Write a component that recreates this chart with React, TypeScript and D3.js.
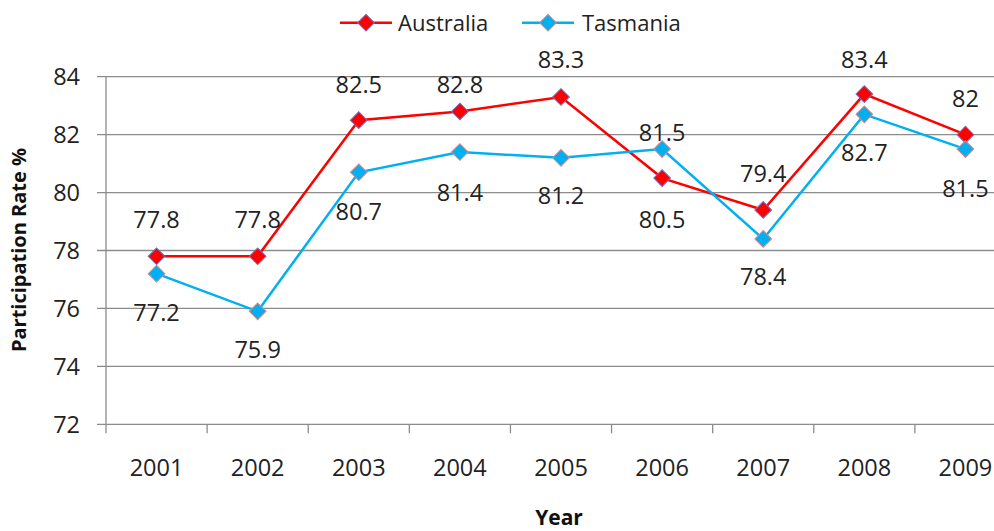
import React from 'react';
import * as d3 from 'd3';

const years = ['2001', '2002', '2003', '2004', '2005', '2006', '2007', '2008', '2009'];
const australia = [77.8, 77.8, 82.5, 82.8, 83.3, 80.5, 79.4, 83.4, 82];
const tasmania = [77.2, 75.9, 80.7, 81.4, 81.2, 81.5, 78.4, 82.7, 81.5];
const yTicks = [72, 74, 76, 78, 80, 82, 84];
const seriesNames = ['Australia', 'Tasmania'];

// label placement (pixel offset of label centre from the point), layout only
const ausLabelDy = [-37, -37, -36, -27, -37, 41, -36, -35, -36];
const tasLabelDy = [39, 38, 39, 40, 38, -17, 38, 38, 39];

const W = 994;
const H = 531;
const FONT = '"Open Sans", "Liberation Sans", sans-serif';
const RED = '#FF0000';
const BLUE = '#00B0F0';
const RED_EDGE = '#6f6fc0';
const BLUE_EDGE = '#d9868a';
const GRID = '#8c8c8c';

export default function App() {
  const x = d3.scaleBand<string>().domain(years).range([106, 1016]).padding(0);
  const y = d3.scaleLinear().domain([72, 84]).range([424.3, 76.7]);
  const cx = (i: number) => (x(years[i]) as number) + x.bandwidth() / 2;
  const line = d3
    .line<number>()
    .x((_, i) => cx(i))
    .y((d) => y(d));
  const diamond = d3.symbol().type(d3.symbolSquare).size(140)() as string;

  const series = [
    { name: seriesNames[0], values: australia, color: RED, edge: RED_EDGE, dy: ausLabelDy },
    { name: seriesNames[1], values: tasmania, color: BLUE, edge: BLUE_EDGE, dy: tasLabelDy },
  ];

  const plotLeft = 106;
  const plotBottom = y(72);
  const fs = 23.5;

  const legendItems = [
    { lx: 340, tx: 398, s: series[0] },
    { lx: 522, tx: 582, s: series[1] },
  ];

  return (
    <svg
      width={W}
      height={H}
      style={{ position: 'absolute', left: 0, top: 0, background: '#fff' }}
      fontFamily={FONT}
    >
      <rect x={0} y={0} width={W} height={H} fill="#fff" />
      {/* gridlines and y ticks */}
      {yTicks.map((t) => (
        <g key={t}>
          <line x1={97} x2={1016} y1={y(t)} y2={y(t)} stroke={GRID} strokeWidth={1.3} />
          <text x={80} y={y(t) + 8.5} textAnchor="end" fontSize={fs} fill="#222">
            {t}
          </text>
        </g>
      ))}
      {/* y axis */}
      <line x1={plotLeft} x2={plotLeft} y1={y(84)} y2={plotBottom} stroke={GRID} strokeWidth={1.3} />
      {/* x ticks */}
      {years.concat(['end']).map((yr, i) => {
        const xx = 106 + i * x.bandwidth();
        return <line key={yr} x1={xx} x2={xx} y1={plotBottom} y2={plotBottom + 9} stroke={GRID} strokeWidth={1.3} />;
      })}
      {years.map((yr, i) => (
        <text key={yr} x={cx(i)} y={476} textAnchor="middle" fontSize={fs} fill="#222">
          {yr}
        </text>
      ))}
      {/* axis titles */}
      <text
        transform={`translate(26,250) rotate(-90)`}
        textAnchor="middle"
        fontSize={20}
        fontWeight="bold"
        fill="#111"
      >
        Participation Rate %
      </text>
      <text x={559} y={525} textAnchor="middle" fontSize={21} fontWeight="bold" fill="#111">
        Year
      </text>
      {/* series lines */}
      {series.map((s) => (
        <path key={s.name} d={line(s.values) as string} fill="none" stroke={s.color} strokeWidth={2.5} />
      ))}
      {/* markers */}
      {series.map((s) =>
        s.values.map((v, i) => (
          <path
            key={s.name + i}
            d={diamond}
            transform={`translate(${cx(i)},${y(v)}) rotate(45)`}
            fill={s.color}
            stroke={s.edge}
            strokeWidth={1}
          />
        ))
      )}
      {/* data labels */}
      {series.map((s) =>
        s.values.map((v, i) => (
          <text
            key={'l' + s.name + i}
            x={cx(i)}
            y={y(v) + s.dy[i] + 8.5}
            textAnchor="middle"
            fontSize={fs}
            fill="#222"
          >
            {String(v)}
          </text>
        ))
      )}
      {/* legend */}
      {legendItems.map(({ lx, tx, s }) => (
        <g key={'lg' + s.name}>
          <line x1={lx} x2={lx + 52} y1={22.7} y2={22.7} stroke={s.color} strokeWidth={2.5} />
          <path
            d={diamond}
            transform={`translate(${lx + 26},22.7) rotate(45)`}
            fill={s.color}
            stroke={s.edge}
            strokeWidth={1}
          />
          <text x={tx} y={30.5} fontSize={22} fill="#222">
            {s.name}
          </text>
        </g>
      ))}
    </svg>
  );
}
